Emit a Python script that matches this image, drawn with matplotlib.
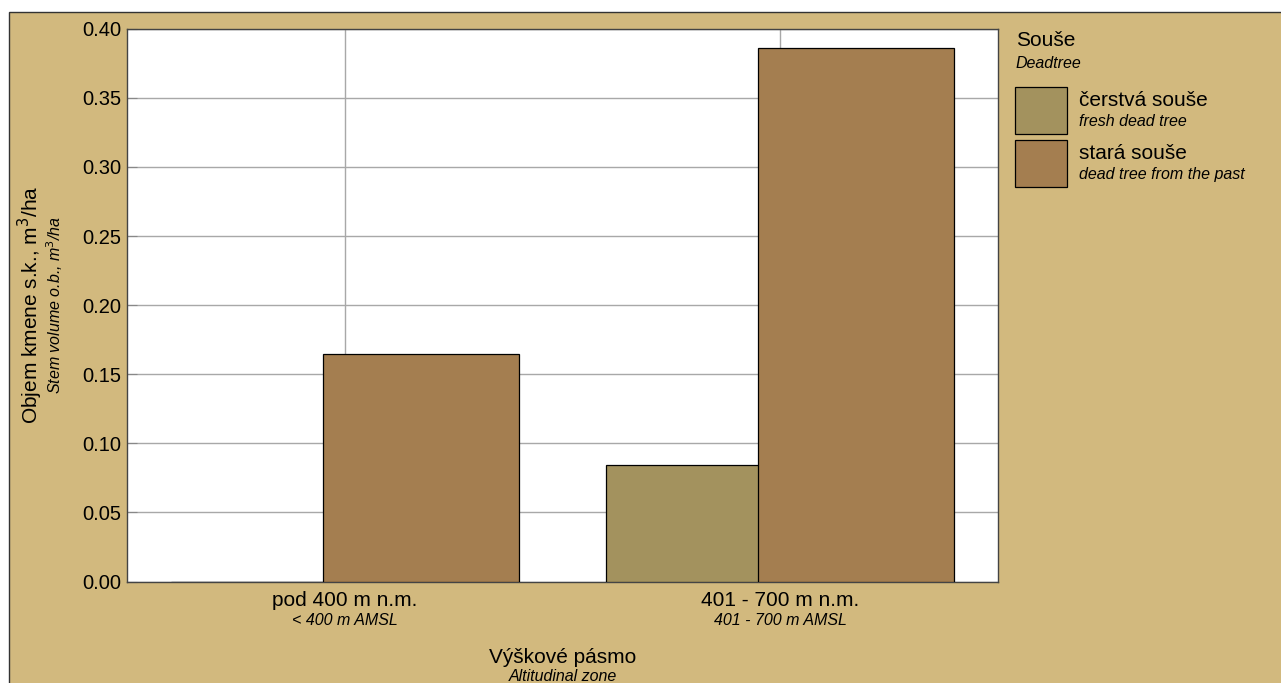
import numpy as np
import matplotlib.pyplot as plt
import matplotlib as mpl
from matplotlib.patches import Rectangle

mpl.rcParams['font.family'] = ['Liberation Sans', 'DejaVu Sans']

# data
zones = ['pod 400 m n.m.', '401 - 700 m n.m.']
zones_en = ['< 400 m AMSL', '401 - 700 m AMSL']
fresh = [0.0, 0.084]
old = [0.1645, 0.3857]
series_cz = ['čerstvá souše', 'stará souše']
series_en = ['fresh dead tree', 'dead tree from the past']
yticks = [0.00, 0.05, 0.10, 0.15, 0.20, 0.25, 0.30, 0.35, 0.40]

bg = '#D2B97E'
c_fresh = '#A3925E'
c_old = '#A47E50'

FS = 15     # main texts
FS_IT = 11.5  # english italic subtitles

fig = plt.figure(figsize=(12.81, 6.83), dpi=100)
fig.patch.set_facecolor('white')
# tan frame with dark edge on left/top
fig.patches.append(Rectangle((9 / 1281, -0.01), 1.02, 1 - 12 / 683 + 0.01,
                             transform=fig.transFigure, facecolor=bg,
                             edgecolor='#333333', linewidth=1.0, zorder=-10))

ax = fig.add_axes([127 / 1281, 1 - 581.5 / 683, (998 - 127) / 1281, (581.5 - 28.7) / 683])
ax.set_facecolor('white')

x = np.arange(len(zones))
off = 0.1745
w = 0.45
ax.bar(x - off, fresh, w, color=c_fresh, edgecolor='black', linewidth=0.9, zorder=3)
ax.bar(x + off, old, w, color=c_old, edgecolor='black', linewidth=0.9, zorder=4)

ax.set_xlim(-0.5, 1.5)
ax.set_ylim(0, 0.40)
ax.set_yticks(yticks)
ax.set_yticklabels([f'{v:.2f}' for v in yticks], fontsize=14.5)
ax.set_xticks(x)
ax.set_xticklabels([])
ax.tick_params(axis='y', direction='in', length=7, color='#888888', pad=4)
ax.tick_params(axis='x', length=0)
ax.grid(True, color='#A8A8A8', linewidth=1.0, zorder=1)
ax.set_axisbelow(True)
for s in ax.spines.values():
    s.set_color('#444444')
    s.set_linewidth(1.0)

# category labels (two languages)
tr = ax.get_xaxis_transform()
for xi, cz, en in zip(x, zones, zones_en):
    ax.text(xi, -0.034, cz, transform=tr, ha='center', va='center', fontsize=FS)
    ax.text(xi, -0.071, en, transform=tr, ha='center', va='center', fontsize=FS_IT, style='italic')

ax.text(0.5, -0.138, 'Výškové pásmo', transform=ax.transAxes, ha='center', va='center', fontsize=FS)
ax.text(0.5, -0.171, 'Altitudinal zone', transform=ax.transAxes, ha='center', va='center',
        fontsize=FS_IT, style='italic')

ax.text((30 - 127) / 871, 0.5, 'Objem kmene s.k., m$^3$/ha', transform=ax.transAxes, rotation=90,
        ha='center', va='center', fontsize=FS)
ax.text((54.5 - 127) / 871, 0.5, 'Stem volume o.b., m$^3$/ha', transform=ax.transAxes, rotation=90,
        ha='center', va='center', fontsize=FS_IT, style='italic')

# legend drawn by hand in figure pixels
def fx(px):
    return px / 1281

def fy(py):
    return 1 - py / 683

fig.text(fx(1016), fy(41), 'Souše', ha='left', va='center', fontsize=FS)
fig.text(fx(1016), fy(63), 'Deadtree', ha='left', va='center', fontsize=FS_IT, style='italic')
tops = [86.7, 140]
for top, col, cz, en in zip(tops, [c_fresh, c_old], series_cz, series_en):
    fig.patches.append(Rectangle((fx(1015), fy(top + 47)), 52 / 1281, 47 / 683,
                                 transform=fig.transFigure, facecolor=col,
                                 edgecolor='black', linewidth=0.9))
    fig.text(fx(1079), fy(top + 13.5), cz, ha='left', va='center', fontsize=FS)
    fig.text(fx(1079), fy(top + 35), en, ha='left', va='center', fontsize=FS_IT, style='italic')

fig.savefig('out.png', dpi=100, facecolor=fig.get_facecolor())
